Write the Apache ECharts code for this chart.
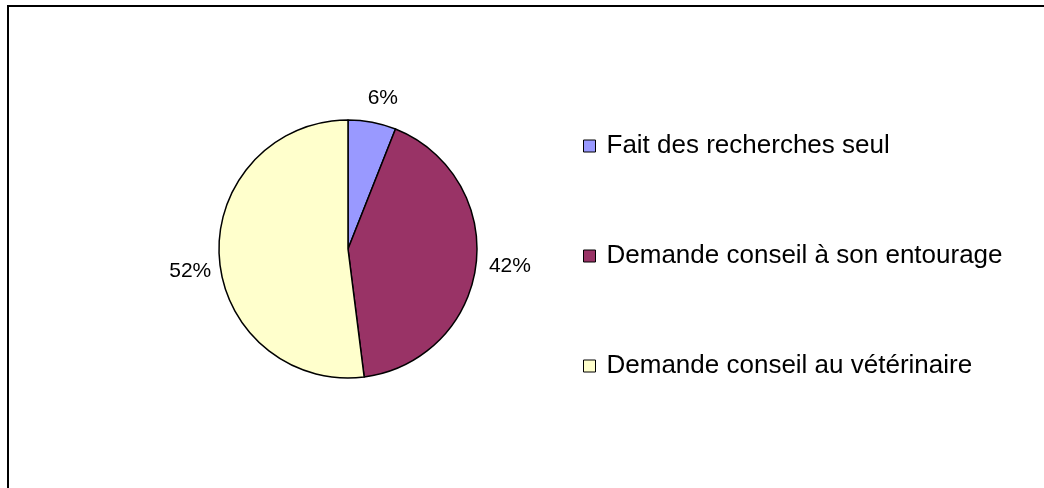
<!DOCTYPE html>
<html lang="fr">
<head>
    <meta charset="UTF-8">
    <script src="https://cdn.jsdelivr.net/npm/echarts@6/dist/echarts.min.js"></script>
    <title>Pie_Recherches</title>
</head>
<body style="margin:0;">
    <div id="pie_1" style="width:1044px;height:488px;"></div>
    <script type="text/javascript">
        // categories + values
        var categories = ['Fait des recherches seul', 'Demande conseil à son entourage', 'Demande conseil au vétérinaire'];
        var values = [6, 42, 52];
        var colors = ['#9999FF', '#993366', '#FFFFCC'];

        var Chart_pie_1 = echarts.init(document.getElementById('pie_1'));

        var pieData = categories.map(function (name, i) {
            return { name: name, value: values[i], itemStyle: { color: colors[i] } };
        });
        // small nudges so labels sit roughly where Excel put them
        pieData[0].label = { align: 'center', offset: [-11, -16] };
        pieData[2].label = { offset: [5, 14] };

        var option_pie_1 = {
            backgroundColor: '#fff',
            animation: false,
            textStyle: { fontFamily: 'Liberation Sans, Arial, sans-serif' },
            graphic: [{
                type: 'rect',
                shape: { x: 8, y: 6, width: 1100, height: 600 },
                style: { fill: 'none', stroke: '#000', lineWidth: 2 },
                silent: true
            }],
            legend: {
                orient: 'vertical',
                left: 583,
                top: 133,
                padding: 0,
                itemWidth: 12,
                itemHeight: 12,
                itemGap: 84,
                icon: 'rect',
                itemStyle: { borderColor: '#000', borderWidth: 1 },
                textStyle: { fontSize: 26, lineHeight: 26, color: '#000', padding: [0, 0, 0, 6] }
            },
            series: [{
                type: 'pie',
                center: [348, 249],
                radius: 129,
                startAngle: 90,
                clockwise: true,
                itemStyle: { borderColor: '#000', borderWidth: 1.5 },
                label: {
                    show: true,
                    position: 'outside',
                    formatter: function (p) { return p.value + '%'; },
                    fontSize: 21,
                    color: '#000'
                },
                labelLine: { show: false, length: 8, length2: 0 },
                emphasis: { disabled: true },
                data: pieData
            }]
        };
        Chart_pie_1.setOption(option_pie_1);
    </script>
</body>
</html>
